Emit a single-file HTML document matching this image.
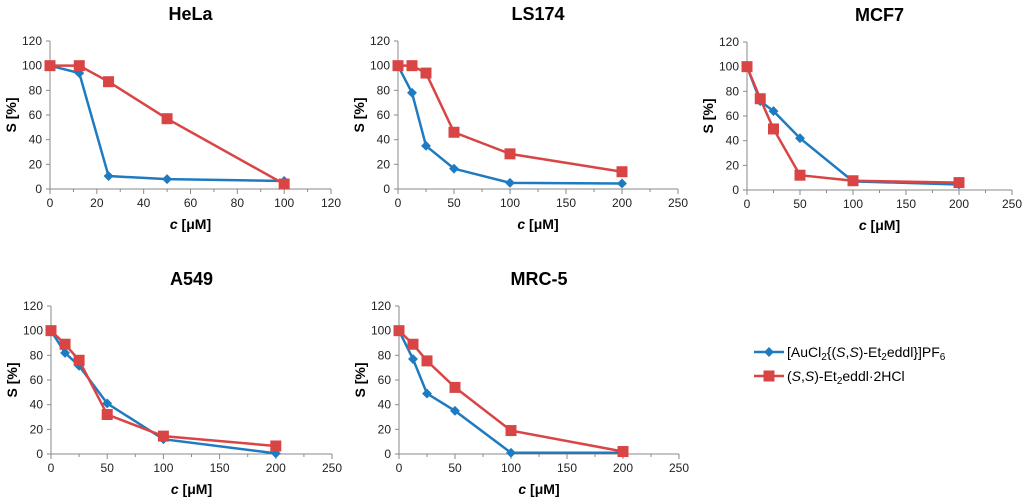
<!DOCTYPE html>
<html><head><meta charset="utf-8"><style>
body{margin:0;background:#fff;width:1024px;height:499px;overflow:hidden;font-family:"Liberation Sans",sans-serif;}
svg{position:absolute;left:0;top:0}
</style></head><body>
<svg id="c" width="1024" height="499"></svg>
<script>
const panelNames=["HeLa","LS174","MCF7","A549","MRC-5"];
const xHeLa=[0,12.5,25,50,100];
const xOther=[0,12.5,25,50,100,200];
const blueHeLa=[100,94,10.5,8,6.5];
const redHeLa=[100,100,87,57,4];
const blueLS174=[100,78,35,16.5,5,4.5];
const redLS174=[100,100,94,46,28.5,14];
const blueMCF7=[100,72,64,42,7,4.5];
const redMCF7=[100,74,49.5,12,7.5,6];
const blueA549=[100,82,71.5,41,12,0.5];
const redA549=[100,89,76,32,14.5,6.5];
const blueMRC5=[100,77,49,35,1,1];
const redMRC5=[100,89,75.5,54,19,2];
const yTicks=[0,20,40,60,80,100,120];
const xTicksHeLa=[0,20,40,60,80,100,120];
const xTicksOther=[0,50,100,150,200,250];

const NS="http://www.w3.org/2000/svg";
const svg=document.getElementById('c');
function mk(tag,attrs,parent,text){const e=document.createElementNS(NS,tag);for(const k in attrs)e.setAttribute(k,attrs[k]);if(text!==undefined)e.textContent=text;(parent||svg).appendChild(e);return e;}

const layout=[
 {x0:50,x1:331,y0:189,y1:41,xmax:120,xt:xTicksHeLa,xs:xHeLa,b:blueHeLa,r:redHeLa},
 {x0:398,x1:678,y0:189,y1:41,xmax:250,xt:xTicksOther,xs:xOther,b:blueLS174,r:redLS174},
 {x0:747,x1:1012,y0:190,y1:42,xmax:250,xt:xTicksOther,xs:xOther,b:blueMCF7,r:redMCF7},
 {x0:51,x1:332,y0:454,y1:306,xmax:250,xt:xTicksOther,xs:xOther,b:blueA549,r:redA549},
 {x0:399,x1:679,y0:454,y1:306,xmax:250,xt:xTicksOther,xs:xOther,b:blueMRC5,r:redMRC5},
];
layout.forEach((p,i)=>{
 const g=mk('g',{});
 
 
 const X=v=>p.x0+(p.x1-p.x0)*v/p.xmax;
 const Y=v=>p.y0+(p.y1-p.y0)*v/120;
 const t=mk('text',{x:(p.x0+p.x1)/2,y:p.y1-21,'text-anchor':'middle','font-size':'18','font-weight':'bold',fill:'#000'},g,panelNames[i]);
 
 
 mk('line',{x1:p.x0,y1:p.y0,x2:p.x0,y2:p.y1,stroke:'#8a8a8a'},g);
 mk('line',{x1:p.x0,y1:p.y0,x2:p.x1,y2:p.y0,stroke:'#8a8a8a'},g);
 yTicks.forEach(v=>{
  mk('line',{x1:p.x0-4,y1:Y(v),x2:p.x0,y2:Y(v),stroke:'#8a8a8a'},g);
  const l=mk('text',{x:p.x0-8,y:Y(v)+4,'text-anchor':'end','font-size':'12',fill:'#222'},g,String(v));
  
  
 });
 p.xt.forEach((v,k)=>{
  mk('line',{x1:X(v),y1:p.y0,x2:X(v),y2:p.y0+5,stroke:'#8a8a8a'},g);
  if(k<p.xt.length-1){const m=(v+p.xt[k+1])/2;mk('line',{x1:X(m),y1:p.y0,x2:X(m),y2:p.y0+3,stroke:'#8a8a8a'},g);}
  const l=mk('text',{x:X(v),y:p.y0+18,'text-anchor':'middle','font-size':'12',fill:'#222'},g,String(v));
  
  
 });
 const yl=mk('text',{x:0,y:0,transform:`translate(${p.x0-34},${(p.y0+p.y1)/2}) rotate(-90)`,'text-anchor':'middle','font-size':'14','font-weight':'bold',fill:'#000'},g,'S [%]');
 
 
 const xl=mk('text',{x:(p.x0+p.x1)/2,y:p.y0+40,'text-anchor':'middle','font-size':'14','font-weight':'bold',fill:'#000'},g);
 
 
 mk('tspan',{'font-style':'italic'},xl,'c');mk('tspan',{},xl,' [μM]');
 const bpts=p.xs.map((x,k)=>X(x)+','+Y(p.b[k])).join(' ');
 const rpts=p.xs.map((x,k)=>X(x)+','+Y(p.r[k])).join(' ');
 const bl=mk('polyline',{points:bpts,fill:'none',stroke:'#1f7bc1','stroke-width':'2.5'},g);
 
 
 p.xs.forEach((x,k)=>{const d=mk('rect',{x:X(x)-3.5,y:Y(p.b[k])-3.5,width:7,height:7,fill:'#1f7bc1',transform:`rotate(45 ${X(x)} ${Y(p.b[k])})`},g);
  
  });
 const rl=mk('polyline',{points:rpts,fill:'none',stroke:'#d94545','stroke-width':'2.5'},g);
 
 
 p.xs.forEach((x,k)=>{const d=mk('rect',{x:X(x)-5.5,y:Y(p.r[k])-5.5,width:11,height:11,fill:'#d94545'},g);
  
  });
});
const lg=mk('g',{});


mk('line',{x1:754,y1:352,x2:784,y2:352,stroke:'#1f7bc1','stroke-width':'2.5'},lg);
mk('rect',{x:765.5,y:348.5,width:7,height:7,fill:'#1f7bc1',transform:'rotate(45 769 352)'},lg);
const t1=mk('text',{x:787,y:357,'font-size':'14',fill:'#000'},lg);


t1.innerHTML='[AuCl<tspan font-size="10" dy="3">2</tspan><tspan dy="-3">{(</tspan><tspan font-style="italic">S</tspan>,<tspan font-style="italic">S</tspan>)-Et<tspan font-size="10" dy="3">2</tspan><tspan dy="-3">eddl}]PF</tspan><tspan font-size="10" dy="3">6</tspan>';
mk('line',{x1:754,y1:376,x2:784,y2:376,stroke:'#d94545','stroke-width':'2.5'},lg);
mk('rect',{x:763.5,y:370.5,width:11,height:11,fill:'#d94545'},lg);
const t2=mk('text',{x:787,y:381,'font-size':'14',fill:'#000'},lg);


t2.innerHTML='(<tspan font-style="italic">S</tspan>,<tspan font-style="italic">S</tspan>)-Et<tspan font-size="10" dy="3">2</tspan><tspan dy="-3">eddl·2HCl</tspan>';
</script>
</body></html>
